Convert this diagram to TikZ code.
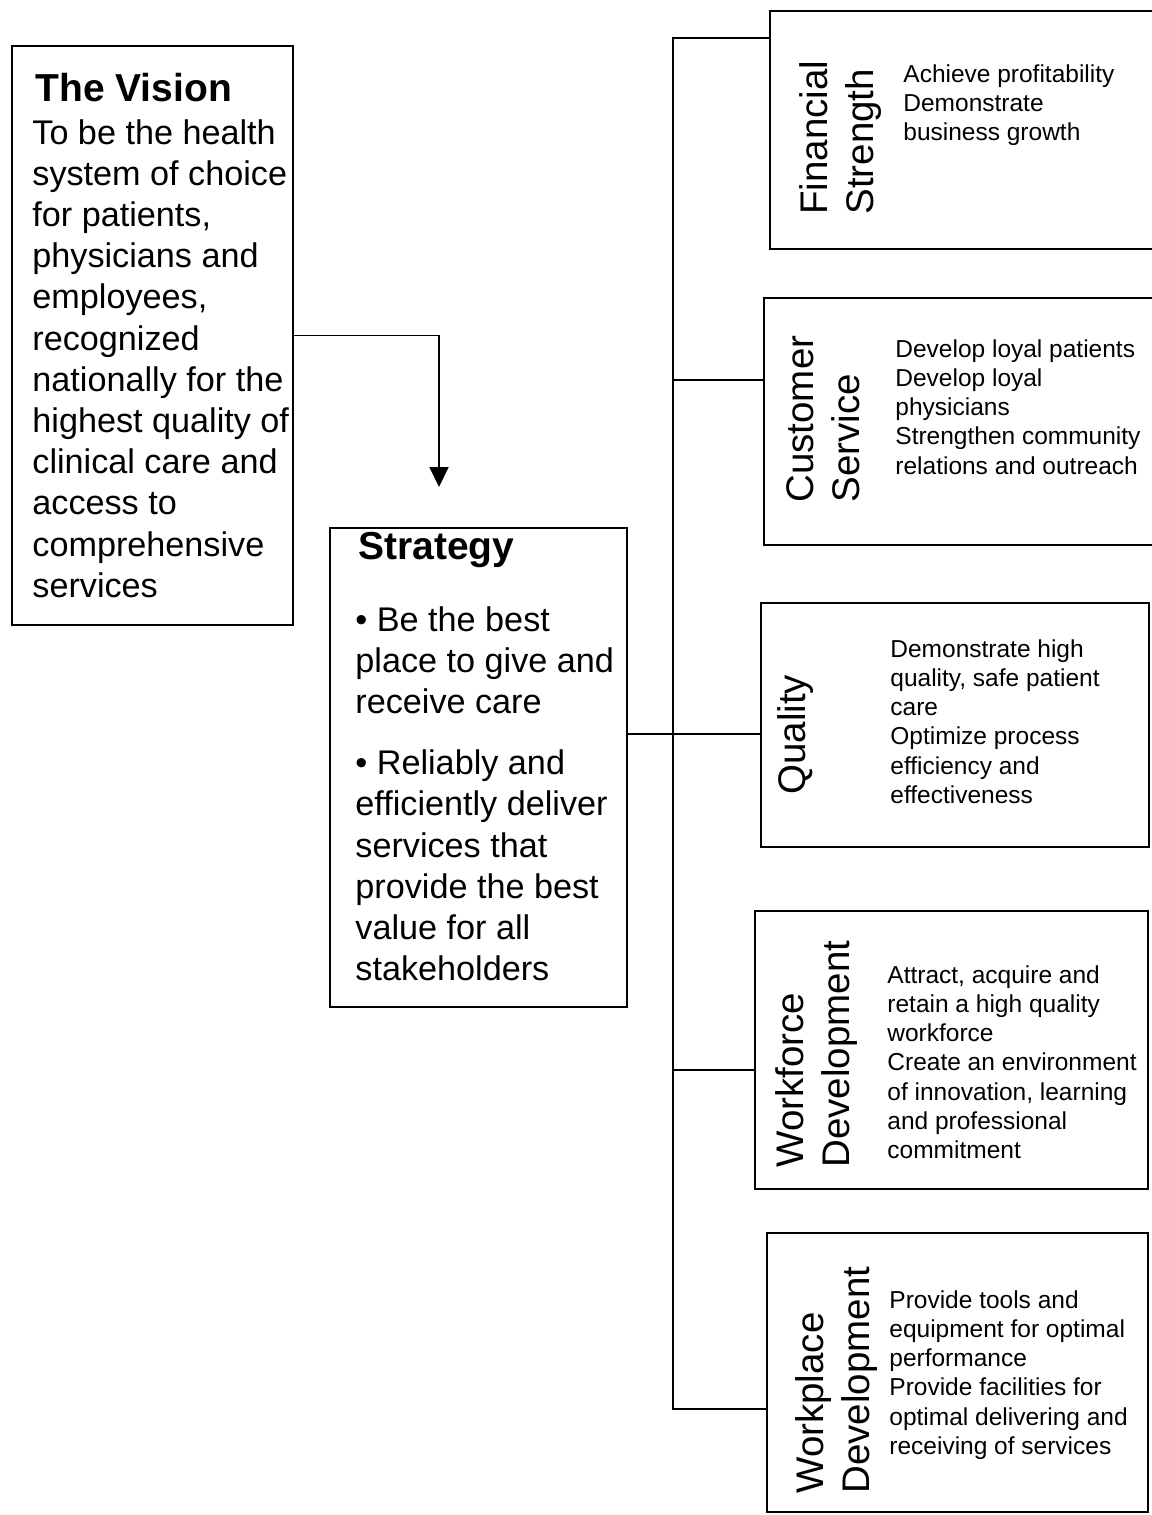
\documentclass[tikz,border=0pt]{standalone}
\usepackage{fontspec}
\setmainfont{Liberation Sans}
\usetikzlibrary{arrows.meta,fit}
\newcommand\myheadfont{\fontsize{19.5pt}{22pt}\selectfont\bfseries}
\newcommand\mybodyfont{\fontsize{17.1pt}{20.6pt}\selectfont}
\newcommand\mylabfont{\fontsize{19.25pt}{23.4pt}\selectfont}
\newcommand\mydescfont{\fontsize{12.25pt}{14.65pt}\selectfont}
\begin{document}
\begin{tikzpicture}[x=0.5pt,y=-0.5pt,
  box/.style={draw, line width=1pt, inner sep=0pt},
  conn/.style={line width=0.9pt},
  arr/.style={conn, -{Triangle[length=10pt,width=9.5pt]}},
  txt/.style={inner sep=0pt, anchor=base west},
  lab/.style={inner sep=0pt, anchor=base west, rotate=90}]
\useasboundingbox (0,0) rectangle (1151,1515);

% boxes
\node[box, fit={(12,46) (293,625)}] (vision) {};
\node[box, fit={(330,528) (627,1007)}] (strategy) {};
\node[box, fit={(770,11) (1154,249)}] (fin) {};
\node[box, fit={(764,298) (1154,545)}] (cust) {};
\node[box, fit={(761,603) (1149,847)}] (qual) {};
\node[box, fit={(755,911) (1148,1189)}] (work) {};
\node[box, fit={(767,1233) (1148,1512)}] (place) {};

% vision text
\node[txt] (vtitle) at (35,101) {\myheadfont The Vision};
\node[txt] (vtext) at (32,144) {\mybodyfont\begin{tabular}[t]{@{}l@{}}
To be the health\\ system of choice\\ for patients,\\ physicians and\\ employees,\\
recognized\\ nationally for the\\ highest quality of\\ clinical care and\\ access to\\
comprehensive\\ services\end{tabular}};

% strategy text
\node[txt] (stitle) at (358,559) {\myheadfont Strategy};
\node[txt] (stext) at (355,631) {\mybodyfont\begin{tabular}[t]{@{}l@{}}
• Be the best\\ place to give and\\ receive care\\[10pt]
• Reliably and\\ efficiently deliver\\ services that\\ provide the best\\ value for all\\ stakeholders\end{tabular}};

% rotated labels
\node[lab] (finlab) at (827,215) {\mylabfont\begin{tabular}[t]{@{}l@{}}Financial\\ Strength\end{tabular}};
\node[lab] (custlab) at (813,503) {\mylabfont\begin{tabular}[t]{@{}l@{}}Customer\\ Service\end{tabular}};
\node[lab] (quallab) at (805,795) {\mylabfont Quality};
\node[lab] (worklab) at (803,1168) {\mylabfont\begin{tabular}[t]{@{}l@{}}Workforce\\ Development\end{tabular}};
\node[lab] (placelab) at (823,1494) {\mylabfont\begin{tabular}[t]{@{}l@{}}Workplace\\ Development\end{tabular}};

% descriptions
\node[txt] (findesc) at (903,82) {\mydescfont\begin{tabular}[t]{@{}l@{}}
Achieve profitability\\ Demonstrate\\ business growth\end{tabular}};
\node[txt] (custdesc) at (895,357) {\mydescfont\begin{tabular}[t]{@{}l@{}}
Develop loyal patients\\ Develop loyal\\ physicians\\ Strengthen community\\ relations and outreach\end{tabular}};
\node[txt] (qualdesc) at (890,657) {\mydescfont\begin{tabular}[t]{@{}l@{}}
Demonstrate high\\ quality, safe patient\\ care\\ Optimize process\\ efficiency and\\ effectiveness\end{tabular}};
\node[txt] (workdesc) at (887,983) {\mydescfont\begin{tabular}[t]{@{}l@{}}
Attract, acquire and\\ retain a high quality\\ workforce\\ Create an environment\\ of innovation, learning\\ and professional\\ commitment\end{tabular}};
\node[txt] (placedesc) at (889,1308) {\mydescfont\begin{tabular}[t]{@{}l@{}}
Provide tools and\\ equipment for optimal\\ performance\\ Provide facilities for\\ optimal delivering and\\ receiving of services\end{tabular}};

% connectors
\coordinate (arrowend) at (439,487);
\draw[arr] (vision.east) -| (arrowend);

\coordinate (t1) at (673,38);
\coordinate (t2) at (673,380);
\coordinate (t3) at (673,734);
\coordinate (t4) at (673,1070);
\coordinate (t5) at (673,1409);
\draw[conn] (t1 -| fin.west) -- (t1) -- (t5) -- (t5 -| place.west);
\draw[conn] (t2) -- (t2 -| cust.west);
\draw[conn] (t3 -| strategy.east) -- (t3 -| qual.west);
\draw[conn] (t4) -- (t4 -| work.west);
\end{tikzpicture}
\end{document}
